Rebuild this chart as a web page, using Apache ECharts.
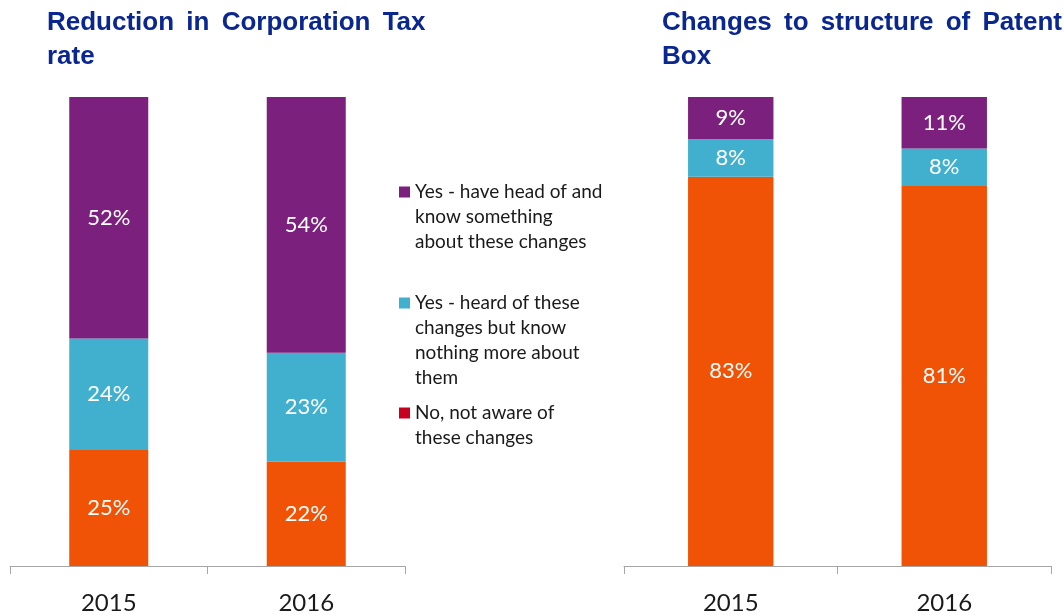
<!DOCTYPE html>
<html>
<head>
<meta charset="utf-8">
<script src="https://cdn.jsdelivr.net/npm/echarts@6/dist/echarts.min.js"></script>
<style>
  html, body { margin: 0; padding: 0; background: #fff; }
  #chart { width: 1064px; height: 615px; }
</style>
</head>
<body>
<div id="chart"></div>
<script>
const years = ['2015', '2016'];
const seriesNames = [
    'Yes - have head of and know something about these changes',
    'Yes - heard of these changes but know nothing more about them',
    'No, not aware of these changes'
];
const legendLines = [
    'Yes - have head of and\nknow something\nabout these changes',
    'Yes - heard of these\nchanges but know\nnothing more about\nthem',
    'No, not aware of\nthese changes'
];

// Reduction in Corporation Tax rate
const taxNo = [25, 22];
const taxHeard = [24, 23];
const taxKnow = [52, 54];

// Changes to structure of Patent Box
const patentNo = [83, 81];
const patentHeard = [8, 8];
const patentKnow = [9, 11];

const colors = ['#7b217d', '#40b0ce', '#f05206'];
const legendColors = ['#7b217d', '#40b0ce', '#c8001e'];

const myChart = echarts.init(document.getElementById('chart'));

// bars are drawn as 100% stacks, labels show the rounded values
function normalise(a, b, c) {
    return a.map((v, i) => {
        const t = a[i] + b[i] + c[i];
        return [a[i] / t * 100, b[i] / t * 100, c[i] / t * 100];
    });
}

function makeSeries(no, heard, know, gridIdx) {
    const norm = normalise(no, heard, know);
    const raw = [no, heard, know];
    const order = [2, 1, 0]; // stack bottom to top: No, Heard, Know
    return order.map((k, j) => ({
        name: seriesNames[k],
        type: 'bar',
        stack: 'total' + gridIdx,
        xAxisIndex: gridIdx,
        yAxisIndex: gridIdx,
        barWidth: '40%',
        itemStyle: { color: colors[k] },
        label: {
            show: true,
            position: 'inside',
            color: '#fff',
            fontFamily: 'Lato',
            fontSize: 22,
            formatter: p => raw[j][p.dataIndex] + '%'
        },
        data: norm.map(r => r[j])
    }));
}

// legend icon: square sitting beside the first text line
const LINE_H = 25;
const legendCounts = [3, 4, 2];
const firstLineY = [192, 303, 413];
function legendIcon(n) {
    const h = n * LINE_H;
    return 'path://M0,0L0,0M0,7L11,7L11,18L0,18ZM0,' + h + 'L0,' + h;
}

const titleStyle = {
    fontFamily: 'Liberation Sans',
    fontWeight: 'bold',
    fontSize: 26,
    lineHeight: 34,
    color: '#0a2690',
    rich: { s: { fontSize: 44, lineHeight: 34 } }
};

const option = {
    animation: false,
    title: [
        {
            text: 'Reduction{s| }in{s| }Corporation{s| }Tax\nrate',
            left: 42,
            top: 1,
            textStyle: titleStyle
        },
        {
            text: 'Changes{s| }to{s| }structure{s| }of{s| }Patent\nBox',
            left: 657,
            top: 1,
            textStyle: titleStyle
        }
    ],
    legend: seriesNames.map((n, i) => ({
        orient: 'vertical',
        left: 394,
        top: firstLineY[i] - LINE_H / 2 - 5,
        itemWidth: 11,
        itemHeight: legendCounts[i] * LINE_H,
        icon: legendIcon(legendCounts[i]),
        selectedMode: false,
        data: [{ name: n, itemStyle: { color: legendColors[i] } }],
        formatter: () => legendLines[i],
        textStyle: {
            fontFamily: 'Lato',
            fontSize: 19,
            lineHeight: LINE_H,
            color: '#1a1a1a'
        }
    })),
    grid: [
        { left: 10, right: 659, top: 97, bottom: 49 },
        { left: 624, right: 13, top: 97, bottom: 49 }
    ],
    xAxis: [0, 1].map(i => ({
        type: 'category',
        gridIndex: i,
        data: years,
        axisLine: { lineStyle: { color: '#a6a6a6' } },
        axisTick: { show: true, length: 8, lineStyle: { color: '#a6a6a6' } },
        axisLabel: { fontFamily: 'Lato', fontSize: 24, color: '#1a1a1a', margin: 25 }
    })),
    yAxis: [0, 1].map(i => ({
        type: 'value',
        gridIndex: i,
        min: 0,
        max: 100,
        show: false
    })),
    series: [
        ...makeSeries(taxNo, taxHeard, taxKnow, 0),
        ...makeSeries(patentNo, patentHeard, patentKnow, 1)
    ]
};

myChart.setOption(option);

window.addEventListener('resize', function() {
    myChart.resize();
});
</script>
</body>
</html>
